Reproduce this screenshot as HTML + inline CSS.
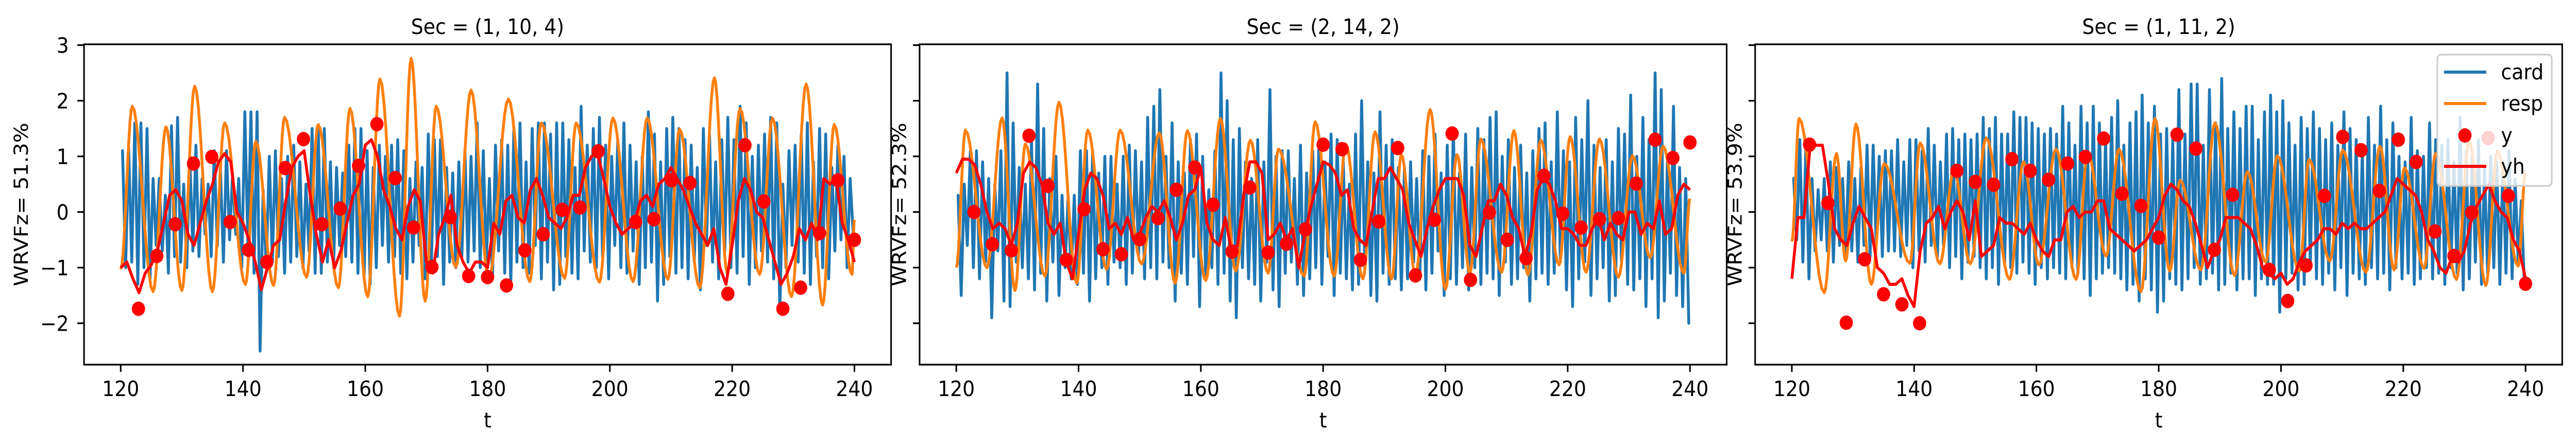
<!DOCTYPE html>
<html><head><meta charset="utf-8"><title>WRVFz panels</title>
<style>
html,body{margin:0;padding:0;background:#fff;width:100vw;height:100vh;overflow:hidden;}
svg{display:block;overflow:hidden;width:100vw;height:100vh;}
text{font-family:"DejaVu Sans","Liberation Sans",sans-serif;fill:#000;}
</style></head>
<body>
<svg id="chart" xmlns="http://www.w3.org/2000/svg" width="100%" height="100%" viewBox="0 0 5426 864" preserveAspectRatio="none"></svg>
<script>
// ---------- data ----------
const panelTitles = ["Sec = (1, 10, 4)", "Sec = (2, 14, 2)", "Sec = (1, 11, 2)"];
const yLabels = ["WRVFz= 51.3%", "WRVFz= 52.3%", "WRVFz= 53.9%"];
const xTicks = [120, 140, 160, 180, 200, 220, 240];
const yTicks = [-2, -1, 0, 1, 2, 3];
const yTickLabels = ["\u22122", "\u22121", "0", "1", "2", "3"];
const legendLabels = ["card", "resp", "y", "yh"];

const cardPeak1 = [1.1,1.15,1.6,1.6,1.5,0.6,0.6,0.3,1.55,1.7,0.5,1.0,1.2,0.6,0.5,1.1,0.8,1.1,0.7,0.6,
1.8,1.8,1.8,0.4,1.0,1.1,0.6,1.0,1.2,0.9,0.5,1.5,1.5,1.5,0.9,0.8,0.7,1.2,1.5,1.5,
1.1,0.8,1.2,1.0,1.2,1.3,1.1,0.6,0.9,0.8,1.4,1.3,1.3,0.8,0.7,0.9,1.1,1.0,1.6,1.1,
0.6,1.2,1.3,1.2,1.5,1.6,0.9,1.5,1.6,1.6,1.4,1.6,1.6,1.3,0.8,1.9,1.2,1.5,1.7,1.2,
1.0,1.3,1.6,1.2,0.9,1.0,1.8,1.4,0.9,1.5,1.7,1.5,1.3,1.2,0.8,1.5,1.4,0.9,1.3,1.7,
1.3,1.9,1.6,1.0,1.2,1.4,1.7,1.6,0.5,1.1,1.2,1.4,1.6,0.9,1.5,1.4,0.8,1.2,1.0,0.6];
const cardTrough1 = [-1.0,-0.9,-1.3,-1.0,-1.2,-0.6,-0.7,-1.1,-0.8,-0.9,-1.0,-0.7,-0.8,-0.4,-0.8,-0.6,-0.9,-0.5,-0.4,-1.0,
-0.6,-1.1,-2.5,-1.0,-0.9,-0.8,-1.1,-0.9,-0.8,-1.0,-0.7,-1.1,-1.1,-0.9,-1.0,-0.6,-0.8,-0.9,-1.1,-1.2,
-1.3,-1.0,-0.6,-0.9,-0.8,-1.1,-1.2,-0.9,-0.6,-1.2,-1.0,-0.8,-1.3,-0.9,-1.0,-0.8,-0.9,-0.7,-1.0,-0.9,
-1.2,-0.7,-1.1,-1.3,-0.9,-1.0,-1.1,-0.6,-1.2,-0.9,-1.4,-1.3,-0.8,-1.1,-1.2,-0.7,-0.9,-1.0,-0.8,-1.2,
-0.6,-1.0,-1.1,-0.7,-1.3,-1.0,-0.9,-1.6,-1.3,-0.8,-1.1,-1.0,-1.2,-0.9,-1.4,-0.6,-0.9,-1.2,-0.7,-1.0,
-1.1,-0.8,-1.3,-1.0,-0.7,-0.9,-1.2,-1.8,-1.0,-0.6,-0.9,-1.1,-1.3,-0.8,-1.0,-1.2,-0.7,-0.5,-1.0,-0.4];
const cardPeak2 = [0.3,0.5,1.1,1.1,0.9,0.6,0.5,1.1,2.5,1.6,0.8,0.5,1.3,2.3,1.5,0.6,1.0,0.3,0.3,0.3,
1.1,1.1,1.1,0.7,1.0,1.0,0.5,1.0,1.2,1.1,0.9,1.7,1.9,2.2,1.0,1.6,0.9,0.7,1.3,1.4,
1.0,0.4,1.1,2.5,2.0,1.3,1.5,0.9,0.6,1.3,0.9,2.2,1.0,1.1,1.1,0.6,1.2,0.7,1.1,1.2,
0.9,1.4,1.3,0.9,0.5,1.4,2.0,0.9,0.7,1.8,1.2,1.3,0.8,0.8,0.9,0.6,1.1,1.0,1.4,0.7,
1.2,1.5,0.7,1.4,0.8,1.5,1.3,1.7,1.8,1.0,1.3,0.8,1.2,0.7,1.1,1.5,1.6,0.9,1.8,1.1,
0.9,1.7,1.3,2.0,1.2,0.8,1.3,0.9,1.5,1.4,2.1,1.0,1.7,1.3,2.5,2.2,0.9,1.9,0.8,0.6];
const cardTrough2 = [-1.5,-0.6,-1.0,-1.2,-0.9,-1.9,-0.7,-1.6,-1.7,-0.9,-1.0,-1.2,-1.4,-1.1,-1.6,-0.9,-1.5,-1.0,-1.2,-1.3,
-1.1,-1.6,-1.2,-1.0,-1.3,-0.9,-1.0,-1.3,-1.1,-0.8,-1.2,-1.0,-1.2,-0.9,-1.0,-1.6,-1.1,-1.3,-0.8,-1.7,
-1.2,-1.0,-1.3,-1.1,-1.6,-1.9,-1.0,-1.2,-1.3,-1.6,-0.9,-1.4,-1.7,-1.1,-0.9,-1.3,-1.5,-1.2,-1.0,-1.3,
-0.8,-1.5,-1.1,-1.2,-1.4,-1.3,-1.0,-1.5,-1.6,-1.1,-1.3,-1.2,-1.4,-1.2,-0.9,-1.2,-1.4,-1.1,-0.7,-1.5,
-1.2,-1.3,-1.0,-1.4,-1.0,-1.3,-1.1,-1.2,-1.5,-0.9,-1.3,-1.2,-1.0,-1.6,-1.2,-1.1,-1.3,-1.1,-0.9,-1.4,
-1.7,-1.2,-0.9,-1.5,-1.2,-1.0,-1.6,-1.5,-0.9,-1.3,-1.4,-1.2,-1.7,-1.2,-1.9,-1.6,-1.1,-1.5,-1.7,-2.0];
const cardPeak3 = [0.6,1.3,1.2,0.6,0.4,0.6,0.9,0.8,0.6,0.9,0.6,0.8,1.2,1.2,1.0,1.1,1.1,1.3,0.9,1.3,
1.3,1.1,1.5,1.2,0.9,1.4,1.5,1.3,1.4,1.3,1.4,1.7,1.5,1.7,1.4,1.4,1.8,1.7,1.7,1.6,
1.5,1.4,1.5,1.4,1.9,1.6,1.2,1.9,1.6,1.9,1.6,1.3,1.7,2.0,1.2,1.6,1.8,2.1,1.6,1.9,
1.4,1.5,1.3,2.2,1.4,2.3,2.3,1.2,2.2,1.6,2.4,1.5,1.8,1.5,1.9,1.9,1.3,1.8,2.1,1.8,
2.0,1.6,1.2,1.7,1.5,1.8,1.5,1.3,1.6,1.2,1.8,1.5,1.3,1.1,1.7,1.2,1.9,1.3,1.6,1.0,
0.9,1.7,1.1,1.0,1.6,1.3,1.2,1.3,0.9,1.7,1.1,1.0,1.3,0.8,1.0,0.9,0.9,1.1,0.6,0.2];
const cardTrough3 = [-0.5,-0.9,-1.2,-0.7,-0.5,-0.7,-0.9,-0.6,-0.8,-0.7,-0.9,-0.6,-0.8,-0.6,-0.8,-0.7,-0.7,-0.8,-0.6,-1.0,
-0.7,-0.9,-0.6,-0.8,-0.6,-1.0,-0.8,-1.2,-0.9,-0.8,-1.0,-1.2,-1.0,-1.3,-0.9,-1.0,-1.1,-0.9,-1.1,-1.3,
-1.0,-1.2,-1.0,-1.1,-1.2,-1.0,-1.1,-1.2,-1.5,-1.2,-1.1,-1.0,-1.1,-1.2,-1.4,-1.3,-1.6,-1.2,-1.4,-1.8,
-1.6,-1.2,-1.3,-1.4,-1.2,-1.0,-1.3,-1.2,-1.1,-1.4,-1.3,-1.1,-1.4,-1.2,-1.2,-1.5,-1.2,-1.3,-1.3,-1.8,
-1.2,-1.1,-1.4,-1.3,-1.0,-1.2,-1.3,-1.1,-1.4,-1.0,-1.5,-1.1,-1.2,-1.3,-1.0,-1.2,-1.1,-1.4,-1.0,-1.2,
-1.1,-1.3,-1.2,-1.0,-1.2,-1.1,-1.3,-1.0,-1.1,-1.4,-1.2,-0.9,-1.3,-1.1,-1.0,-1.3,-1.1,-1.2,-0.9,-1.3];

const respT1 = [120,121.9,125.3,127.4,130.0,132.1,135.0,137.0,140.4,142.1,145.0,146.8,150.4,152.3,155.6,157.5,160.4,162.4,165.6,167.5,169.8,171.6,174.8,177.3,180.2,183.4,186.9,188.8,192.6,194.5,198.3,200.5,203.8,206.1,209.5,211.4,214.7,217.1,219.2,221.3,224.5,226.6,229.7,232.1,234.8,236.7,239.6,240];
const respV1 = [-1.03,1.9,-1.43,1.53,-1.41,2.26,-1.43,1.6,-1.3,1.27,-1.32,1.7,-1.17,1.57,-1.36,1.86,-1.52,2.39,-1.87,2.76,-1.6,1.9,-0.99,2.19,-1.2,2.03,-1.25,1.6,-1.19,1.6,-1.26,1.69,-1.25,1.69,-1.21,1.49,-1.36,2.41,-1.1,1.86,-1.12,1.69,-1.52,2.3,-1.67,1.57,-1.12,-0.14];
const respT2 = [120,121.5,125.0,127.5,129.6,131.3,134.5,136.8,139.7,141.5,144.6,146.8,150.3,153.2,155.8,157.8,160.8,163.2,165.7,168.1,171.0,172.7,176.9,178.7,181.8,183.7,186.5,188.5,191.2,192.8,195.1,197.5,200.0,201.9,204.0,205.8,209.2,211.2,213.5,215.6,218.6,220.4,223.0,225.2,228.3,230.6,233.5,235.6,239.0,240];
const respV2 = [-1.0,1.47,-1.0,1.69,-1.41,1.22,-1.15,1.97,-1.28,1.47,-1.03,1.47,-0.93,1.42,-1.28,1.46,-1.23,1.68,-1.06,1.29,-1.1,1.13,-1.15,1.62,-1.15,1.22,-1.2,1.44,-1.2,1.03,-1.13,1.84,-1.39,1.03,-1.1,1.31,-1.08,1.46,-1.13,1.29,-0.95,1.35,-1.08,1.31,-1.17,1.01,-0.82,1.18,-1.1,0.24];
const respT3 = [120,121.2,125.3,127.3,128.8,130.5,133.0,135.1,139.3,141.0,144.2,146.5,149.2,151.8,155.6,157.9,160.4,163.2,166.5,168.4,171.4,173.5,177.1,179.4,181.8,183.5,186.9,189.2,192.4,194.5,197.5,199.4,203.0,204.6,208.0,210.1,213.9,216.2,218.5,220.2,223.4,225.3,228.7,230.8,233.5,235.4,238.8,240];
const respV3 = [-0.53,1.68,-1.45,1.05,-0.88,1.58,-1.3,0.87,-0.92,1.24,-0.93,0.74,-0.93,1.33,-1.21,0.9,-0.95,1.13,-1.21,1.07,-0.79,1.13,-1.43,1.68,-1.06,0.57,-1.04,1.6,-1.14,0.72,-0.9,1.01,-1.06,0.94,-0.88,1.11,-1.08,1.18,-1.04,0.79,-1.01,1.05,-1.21,1.27,-1.32,1.09,-0.97,0.7];

const yh1 = [-1.0,-0.9,-1.2,-1.45,-1.1,-0.95,-0.7,-0.2,0.3,0.4,0.2,-0.4,-0.6,-0.2,0.2,0.5,0.9,1.05,0.9,0.0,-0.2,-0.5,-0.9,-1.4,-1.0,-0.6,-0.5,0.2,0.8,1.0,1.1,0.3,-0.4,-0.9,-0.5,-1.0,-0.7,-0.2,0.3,0.5,1.2,1.3,1.0,0.4,0.1,-0.3,-0.5,0.1,0.4,0.2,-0.9,-1.1,-0.4,-0.1,0.3,-0.6,-0.9,-1.1,-0.9,-0.9,-1.0,
-0.2,-0.4,0.2,0.3,-0.1,-0.2,0.4,0.6,0.3,-0.1,-0.2,-0.3,-0.1,0.3,0.3,0.8,1.0,1.05,0.6,0.1,-0.2,-0.4,-0.3,-0.2,0.2,0.3,0.1,0.5,0.6,0.8,0.6,0.4,0.1,-0.2,-0.4,-0.6,-0.3,-1.0,-1.3,-0.6,0.2,0.6,0.4,0.0,-0.1,-0.5,-0.9,-1.3,-1.1,-0.8,-0.3,-0.5,-0.2,-0.5,0.6,0.5,0.6,-0.2,-0.5,-0.9];
const yh2 = [0.7,0.95,0.95,0.85,0.5,0.0,-0.3,-0.2,-0.3,-0.6,-0.2,0.7,0.9,0.8,0.5,-0.2,-0.4,-0.2,-0.9,-1.2,-0.4,0.4,0.7,0.6,0.3,-0.3,-0.2,-0.4,-0.1,-0.5,-0.4,-0.1,0.1,0.0,0.2,-0.1,-0.5,-0.2,0.3,0.4,0.8,-0.2,-0.5,-0.6,-0.1,-0.7,-0.6,0.3,0.9,0.9,0.7,-0.5,-0.4,-0.2,-0.5,-0.3,-1.0,-0.4,0.1,0.5,0.9,
0.85,0.7,0.3,0.4,-0.3,-0.5,-0.6,0.0,0.6,0.6,0.8,0.6,0.4,-0.2,-0.5,-0.8,-0.3,0.1,0.4,0.6,0.6,0.6,0.3,-0.6,-0.8,-0.3,0.2,0.2,0.5,0.3,-0.1,-0.3,-0.8,-0.4,0.4,0.6,0.5,0.2,-0.3,-0.3,-0.4,-0.6,-0.6,-0.3,-0.1,-0.5,-0.2,-0.4,-0.5,0.0,0.0,-0.4,-0.2,-0.3,0.2,-0.4,-0.3,0.3,0.5,0.4];
const yh3 = [-1.2,-0.1,-0.1,1.2,1.2,1.2,0.5,-0.3,-0.5,-0.6,-0.2,0.1,-0.1,-0.3,-1.0,-1.1,-1.3,-1.3,-1.2,-1.5,-1.7,-0.7,-0.2,-0.1,0.1,-0.3,0.0,0.2,0.0,-0.5,0.2,-0.8,-0.7,-0.6,-0.1,-0.2,-0.2,-0.3,-0.4,-0.2,-0.5,-0.7,-0.8,-0.5,-0.5,0.0,0.1,-0.1,0.0,0.0,0.2,0.2,-0.3,-0.4,-0.5,-0.6,-0.7,-0.6,-0.5,-0.3,-0.1,
0.3,0.5,0.4,0.2,0.1,-0.2,-0.6,-1.0,-0.7,-0.5,-0.1,-0.1,-0.1,-0.2,-0.3,-0.6,-1.0,-1.1,-1.2,-1.1,-1.3,-1.2,-0.9,-0.7,-0.6,-0.5,-0.3,-0.3,-0.4,-0.2,-0.3,-0.2,-0.3,-0.3,-0.2,-0.1,0.0,0.3,0.6,0.5,0.4,0.3,0.0,-0.5,-0.7,-1.0,-1.1,-0.8,-0.9,-0.7,-0.2,0.1,0.3,0.5,0.2,0.0,-0.1,-0.5,-0.7,-1.2];

const dotT1 = [122.9,125.9,128.9,131.9,134.9,137.9,140.9,143.9,146.9,149.9,152.9,155.9,158.9,161.9,164.9,167.9,170.9,173.9,176.9,180.0,183.1,186.1,189.1,192.2,195.1,198.1,204.2,207.2,210.1,213.1,219.3,222.1,225.2,228.3,231.2,234.3,237.3,240.0];
const dotV1 = [-1.74,-0.79,-0.22,0.87,0.99,-0.18,-0.68,-0.9,0.79,1.31,-0.22,0.06,0.83,1.58,0.61,-0.28,-0.99,-0.09,-1.15,-1.17,-1.32,-0.69,-0.4,0.04,0.08,1.09,-0.18,-0.13,0.57,0.52,-1.47,1.2,0.19,-1.74,-1.36,-0.38,0.57,-0.5];
const dotT2 = [122.9,125.9,129.0,131.9,135.0,138.0,140.9,144.0,147.0,150.0,153.0,156.0,159.0,162.0,165.1,168.0,171.0,174.0,177.1,180.0,183.1,186.1,189.1,192.2,195.1,198.2,201.1,204.1,207.2,210.1,213.2,216.1,219.2,222.2,225.2,228.3,231.2,234.3,237.2,240.0];
const dotV2 = [0.0,-0.58,-0.69,1.37,0.47,-0.86,0.05,-0.67,-0.76,-0.49,-0.11,0.4,0.8,0.13,-0.71,0.44,-0.73,-0.57,-0.31,1.21,1.13,-0.86,-0.17,1.15,-1.14,-0.14,1.41,-1.22,-0.01,-0.5,-0.83,0.65,-0.03,-0.28,-0.13,-0.11,0.51,1.3,0.97,1.25];
const dotT3 = [122.9,125.9,128.9,131.9,135.0,138.0,140.9,147.0,150.0,153.0,156.0,159.0,162.0,165.1,168.0,171.0,174.0,177.1,180.0,183.0,186.1,189.1,192.1,198.1,201.1,204.1,207.1,210.1,213.1,216.1,219.2,222.1,225.2,228.3,231.2,237.2,240.0];
const dotV3 = [1.21,0.16,-1.99,-0.85,-1.48,-1.66,-2.0,0.74,0.54,0.49,0.95,0.74,0.58,0.87,0.99,1.32,0.33,0.11,-0.46,1.39,1.14,-0.68,0.31,-1.04,-1.6,-0.96,0.29,1.35,1.11,0.38,1.3,0.9,-0.35,-0.79,-0.01,0.29,-1.29];

// ---------- layout ----------
const NS = "http://www.w3.org/2000/svg";
const svg = document.getElementById("chart");
const panelLeft = [177, 1937, 3697];
const PW = 1700, TOP = 86, BOT = 708;
const XMIN = 114, XMAX = 246, Y0 = 411.6, YPX = 108;
const C_CARD = "#1f77b4", C_RESP = "#ff7f0e", C_RED = "#ff0000";

function xs(p, t) { return panelLeft[p] + (t - XMIN) * PW / (XMAX - XMIN); }
function ys(v) { return Y0 - v * YPX; }
function mk(tag, attrs, parent) {
  const e = document.createElementNS(NS, tag);
  for (const k in attrs) e.setAttribute(k, attrs[k]);
  (parent || svg).appendChild(e);
  return e;
}
function txt(s, attrs, parent) { const e = mk("text", attrs, parent); e.textContent = s; return e; }

const cards = [[cardPeak1, cardTrough1], [cardPeak2, cardTrough2], [cardPeak3, cardTrough3]];
const resps = [[respT1, respV1], [respT2, respV2], [respT3, respV3]];
const yhs = [yh1, yh2, yh3];
const dots = [[dotT1, dotV1], [dotT2, dotV2], [dotT3, dotV3]];

for (let p = 0; p < 3; p++) {
  const g = mk("g", {});
  
  
  const clipId = "clip" + p;
  const cp = mk("clipPath", { id: clipId }, g);
  mk("rect", { x: panelLeft[p], y: TOP, width: PW, height: BOT - TOP }, cp);
  const plot = mk("g", { "clip-path": "url(#" + clipId + ")" }, g);

  const [pk, tr] = cards[p];
  const step = 120 / pk.length;
  let pts = [];
  for (let k = 0; k < pk.length; k++) {
    pts.push(xs(p, 120 + k * step + step * 0.3).toFixed(1) + "," + ys(pk[k]).toFixed(1));
    pts.push(xs(p, 120 + k * step + step * 0.8).toFixed(1) + "," + ys(tr[k]).toFixed(1));
  }
  const cardLine = mk("polyline", { points: pts.join(" "), fill: "none", stroke: C_CARD, "stroke-width": 6, "stroke-linejoin": "round", "stroke-linecap": "round" }, plot);
  
  

  const [rt, rv] = resps[p];
  pts = [];
  for (let i = 0; i < rt.length - 1; i++) {
    for (let s = 0; s < 10; s++) {
      const f = s / 10, e = (1 - Math.cos(Math.PI * f)) / 2;
      const t = rt[i] + (rt[i + 1] - rt[i]) * f;
      const v = rv[i] + (rv[i + 1] - rv[i]) * e;
      pts.push(xs(p, t).toFixed(1) + "," + ys(v).toFixed(1));
    }
  }
  pts.push(xs(p, rt[rt.length - 1]).toFixed(1) + "," + ys(rv[rv.length - 1]).toFixed(1));
  const respLine = mk("polyline", { points: pts.join(" "), fill: "none", stroke: C_RESP, "stroke-width": 6, "stroke-linejoin": "round" }, plot);
  
  

  const [dt, dv] = dots[p];
  for (let i = 0; i < dt.length; i++) {
    const c = mk("circle", { cx: xs(p, dt[i]).toFixed(1), cy: ys(dv[i]).toFixed(1), r: 14, fill: C_RED }, plot);
    
    
  }

  const yh = yhs[p];
  pts = [];
  for (let i = 0; i < yh.length; i++) pts.push(xs(p, 120 + i * 120 / (yh.length - 1)).toFixed(1) + "," + ys(yh[i]).toFixed(1));
  const yhLine = mk("polyline", { points: pts.join(" "), fill: "none", stroke: C_RED, "stroke-width": 6, "stroke-linejoin": "round" }, plot);
  
  

  const fr = mk("rect", { x: panelLeft[p], y: TOP, width: PW, height: BOT - TOP, fill: "none", stroke: "#000", "stroke-width": 3.3 }, g);
  
  

  for (let i = 0; i < xTicks.length; i++) {
    const x = xs(p, xTicks[i]);
    mk("line", { x1: x, y1: BOT, x2: x, y2: BOT + 14, stroke: "#000", "stroke-width": 3.3 }, g);
    const tl = txt(String(xTicks[i]), { x: x, y: 769, "font-size": 41, "text-anchor": "middle" }, g);
    
    
  }
  for (let i = 0; i < yTicks.length; i++) {
    const y = ys(yTicks[i]);
    mk("line", { x1: panelLeft[p] - 14, y1: y, x2: panelLeft[p], y2: y, stroke: "#000", "stroke-width": 3.3 }, g);
    if (p === 0) {
      const tl = txt(yTickLabels[i], { x: 145, y: y + 15, "font-size": 41, "text-anchor": "end" }, g);
      
      
    }
  }
  const xl = txt("t", { x: panelLeft[p] + PW / 2, y: 830, "font-size": 41, "text-anchor": "middle" }, g);
  
  
  const ylx = p === 0 ? 45 : panelLeft[p] - 42;
  const ylyy = (TOP + BOT) / 2;
  const yl = txt(yLabels[p], { x: 0, y: 0, "font-size": 41, "text-anchor": "middle", "dominant-baseline": "central", transform: "translate(" + ylx + " " + ylyy + ") rotate(-90)" }, g);
  
  
  const tt = txt(panelTitles[p], { x: panelLeft[p] + PW / 2, y: 66, "font-size": 41, "text-anchor": "middle" }, g);
  
  
}

const lg = mk("g", {});


mk("rect", { x: 5134, y: 106, width: 241, height: 255, rx: 8, ry: 8, fill: "#fff", "fill-opacity": 0.8, stroke: "#cccccc", "stroke-width": 3.3 }, lg);
const legY = [140, 201, 263, 323];
const legColors = [C_CARD, C_RESP, C_RED, C_RED];
for (let i = 0; i < legendLabels.length; i++) {
  const e = mk("g", {}, lg);
  
  
  if (legendLabels[i] === "y") {
    mk("circle", { cx: 5192, cy: legY[i], r: 14, fill: C_RED }, e);
    mk("circle", { cx: 5241, cy: legY[i] + 5, r: 14, fill: C_RED, "fill-opacity": 0.18 }, e);
  } else {
    mk("line", { x1: 5148, y1: legY[i], x2: 5237, y2: legY[i], stroke: legColors[i], "stroke-width": 6 }, e);
  }
  txt(legendLabels[i], { x: 5268, y: legY[i] + 14, "font-size": 41 }, e);
}
</script>
</body></html>
